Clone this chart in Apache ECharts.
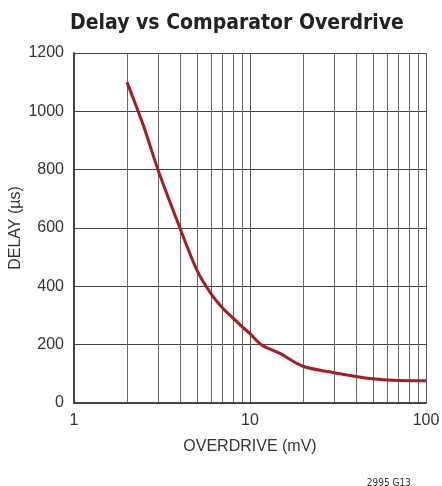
<!DOCTYPE html>
<html>
<head>
<meta charset="utf-8">
<script src="https://cdn.jsdelivr.net/npm/echarts@6/dist/echarts.min.js"></script>
<style>
html, body { margin: 0; padding: 0; background: #fff; }
#main { width: 442px; height: 486px; }
</style>
</head>
<body>
<div id="main"></div>
<script>
// overdrive in mV, delay in us
var overdrive = [2, 2.5, 3, 4, 5, 6, 7, 8, 9, 10, 11.6, 14.8, 20, 30, 40, 50, 65, 100];
var delay = [1100, 945, 800, 600, 455, 375, 325, 292, 262, 238, 200, 170, 126, 104, 91, 83, 78, 76];
var yTicks = [0, 200, 400, 600, 800, 1000, 1200];

var myChart = echarts.init(document.getElementById("main"));

var points = [];
for (var i = 0; i < overdrive.length; i++) {
  points.push([overdrive[i], delay[i]]);
}

myChart.setOption({
  animation: false,
  title: [
    {
      text: "Delay vs Comparator Overdrive",
      left: 232,
      top: 8,
      textAlign: "center",
      textStyle: {
        fontFamily: "DejaVu Sans Condensed, Liberation Sans",
        fontWeight: "bold",
        fontSize: 21,
        color: "#222"
      }
    },
    {
      text: "2995 G13",
      right: 26,
      top: 473,
      textStyle: {
        fontFamily: "DejaVu Sans Condensed, Liberation Sans",
        fontWeight: "normal",
        fontSize: 10,
        color: "#333"
      }
    }
  ],
  grid: {
    left: 74,
    right: 16,
    top: 53,
    bottom: 83,
    outerBoundsMode: "none"
  },
  xAxis: {
    type: "log",
    logBase: 10,
    min: 1,
    max: 100,
    name: "OVERDRIVE (mV)",
    nameLocation: "middle",
    nameGap: 36,
    nameTextStyle: { fontFamily: "Liberation Sans", fontSize: 16, color: "#333" },
    axisLine: { lineStyle: { color: "#444", width: 2 } },
    axisTick: { show: false },
    axisLabel: { fontFamily: "Liberation Sans", fontSize: 16, color: "#333", margin: 10 },
    minorTick: { show: false, splitNumber: 9 },
    splitLine: { show: true, lineStyle: { color: "#555", width: 1 } },
    minorSplitLine: { show: true, lineStyle: { color: "#666", width: 1 } }
  },
  yAxis: {
    type: "value",
    min: yTicks[0],
    max: yTicks[yTicks.length - 1],
    interval: 200,
    name: "DELAY (\u00b5s)",
    nameLocation: "middle",
    nameGap: 50,
    nameMoveOverlap: false,
    nameTextStyle: { fontFamily: "Liberation Sans", fontSize: 16, color: "#333" },
    axisLine: { show: true, lineStyle: { color: "#444", width: 2 } },
    axisTick: { show: false },
    axisLabel: {
      fontFamily: "Liberation Sans",
      fontSize: 16,
      color: "#333",
      margin: 10,
      formatter: function (v) { return String(v); }
    },
    splitLine: { show: true, lineStyle: { color: "#444", width: 1 } }
  },
  series: [
    {
      type: "line",
      data: points,
      smooth: 0.3,
      symbol: "none",
      lineStyle: { color: "#A31F24", width: 3 },
      z: 5
    }
  ]
});
</script>
</body>
</html>
